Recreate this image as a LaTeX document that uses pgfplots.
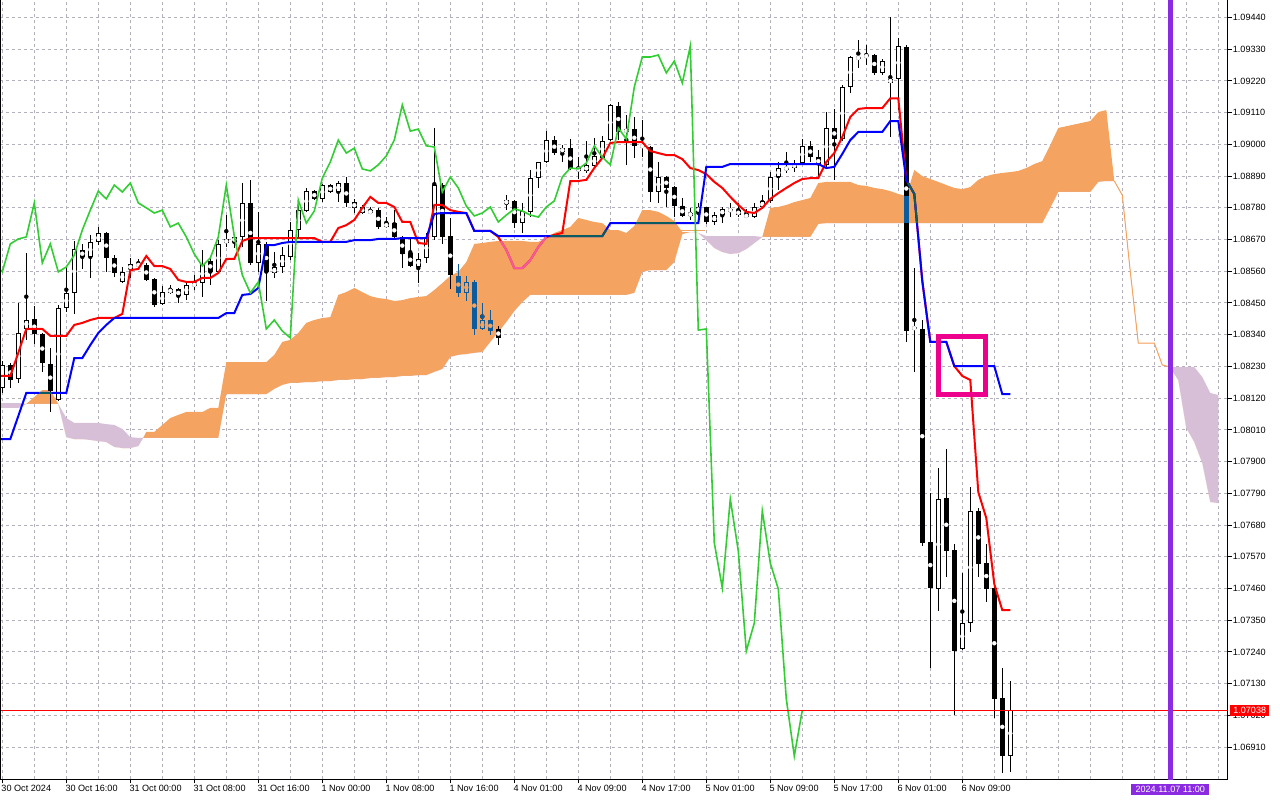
\documentclass[border=0pt]{standalone}
\usepackage{pgfplots}
\pgfplotsset{compat=1.18}
\usepackage{pgfplotstable}
\usepgfplotslibrary{fillbetween}
\usepackage{fontspec}
\setmainfont{Liberation Sans}
\definecolor{sandy}{RGB}{244,164,96}
\definecolor{thistle}{RGB}{216,191,216}
\definecolor{xblue}{RGB}{11,91,159}
\definecolor{xpink}{RGB}{244,91,159}
\definecolor{xteal}{RGB}{11,91,96}
\definecolor{lime}{RGB}{50,205,50}
\definecolor{gridc}{RGB}{180,175,188}
\definecolor{violetline}{RGB}{138,43,226}
\newcommand\lab{\fontsize{9.1bp}{10bp}\selectfont}

\pgfplotstableread{
i O H L C
0 1.08155 1.08252 1.08141 1.08235
1 1.08235 1.08242 1.08155 1.08186
2 1.08186 1.08450 1.08173 1.08346
3 1.08363 1.08623 1.08322 1.08394
4 1.08394 1.08440 1.08311 1.08342
5 1.08342 1.08346 1.08211 1.08242
6 1.08238 1.08294 1.08075 1.08145
7 1.08114 1.08443 1.08110 1.08433
8 1.08433 1.08575 1.08419 1.08485
9 1.08485 1.08668 1.08415 1.08637
10 1.08634 1.08655 1.08568 1.08610
11 1.08610 1.08686 1.08537 1.08662
12 1.08662 1.08714 1.08651 1.08693
13 1.08693 1.08696 1.08558 1.08606
14 1.08606 1.08616 1.08540 1.08554
15 1.08523 1.08575 1.08519 1.08558
16 1.08568 1.08606 1.08537 1.08585
17 1.08585 1.08603 1.08575 1.08578
18 1.08582 1.08589 1.08526 1.08530
19 1.08533 1.08537 1.08436 1.08443
20 1.08446 1.08512 1.08443 1.08488
21 1.08485 1.08512 1.08481 1.08498
22 1.08498 1.08502 1.08450 1.08474
23 1.08478 1.08523 1.08460 1.08512
24 1.08512 1.08547 1.08495 1.08516
25 1.08519 1.08634 1.08471 1.08585
26 1.08596 1.08606 1.08512 1.08558
27 1.08558 1.08668 1.08554 1.08655
28 1.08658 1.08755 1.08644 1.08672
29 1.08662 1.08686 1.08641 1.08679
30 1.08679 1.08866 1.08644 1.08797
31 1.08797 1.08877 1.08582 1.08589
32 1.08589 1.08766 1.08558 1.08655
33 1.08655 1.08662 1.08457 1.08558
34 1.08554 1.08627 1.08537 1.08575
35 1.08575 1.08644 1.08554 1.08616
36 1.08610 1.08731 1.08599 1.08703
37 1.08703 1.08807 1.08679 1.08772
38 1.08769 1.08849 1.08766 1.08838
39 1.08838 1.08842 1.08807 1.08811
40 1.08811 1.08863 1.08800 1.08859
41 1.08859 1.08863 1.08831 1.08835
42 1.08835 1.08873 1.08800 1.08866
43 1.08866 1.08887 1.08783 1.08797
44 1.08800 1.08811 1.08762 1.08780
45 1.08783 1.08790 1.08759 1.08762
46 1.08762 1.08783 1.08759 1.08772
47 1.08772 1.08780 1.08707 1.08714
48 1.08714 1.08748 1.08710 1.08727
49 1.08727 1.08772 1.08675 1.08679
50 1.08679 1.08682 1.08571 1.08620
51 1.08623 1.08679 1.08575 1.08578
52 1.08578 1.08623 1.08519 1.08606
53 1.08606 1.08693 1.08589 1.08679
54 1.08679 1.09057 1.08668 1.08859
55 1.08859 1.08866 1.08655 1.08682
56 1.08682 1.08745 1.08498 1.08547
57 1.08544 1.08585 1.08471 1.08485
58 1.08485 1.08544 1.08460 1.08523
59 1.08523 1.08530 1.08339 1.08360
60 1.08360 1.08450 1.08356 1.08391
61 1.08391 1.08426 1.08339 1.08353
62 1.08360 1.08370 1.08304 1.08329
63 1.08793 1.08824 1.08772 1.08807
64 1.08804 1.08807 1.08710 1.08727
65 1.08727 1.08797 1.08693 1.08769
66 1.08766 1.08911 1.08748 1.08883
67 1.08883 1.08942 1.08849 1.08939
68 1.08939 1.09046 1.08935 1.09015
69 1.09015 1.09029 1.08963 1.08970
70 1.08974 1.08998 1.08939 1.08987
71 1.08987 1.09019 1.08911 1.08915
72 1.08918 1.08956 1.08880 1.08908
73 1.08908 1.09015 1.08904 1.08929
74 1.08925 1.09022 1.08918 1.08960
75 1.08956 1.09029 1.08953 1.09015
76 1.09015 1.09140 1.09012 1.09137
77 1.09133 1.09147 1.09015 1.09046
78 1.09043 1.09102 1.08929 1.09053
79 1.09053 1.09095 1.08956 1.08995
80 1.08998 1.09085 1.08956 1.08991
81 1.08991 1.08995 1.08800 1.08835
82 1.08835 1.08939 1.08797 1.08887
83 1.08887 1.08890 1.08783 1.08849
84 1.08852 1.08856 1.08748 1.08786
85 1.08786 1.08814 1.08748 1.08752
86 1.08752 1.08780 1.08738 1.08762
87 1.08766 1.08797 1.08731 1.08783
88 1.08783 1.08786 1.08727 1.08731
89 1.08731 1.08766 1.08721 1.08755
90 1.08755 1.08783 1.08727 1.08776
91 1.08776 1.08797 1.08748 1.08769
92 1.08772 1.08797 1.08748 1.08755
93 1.08759 1.08776 1.08745 1.08748
94 1.08748 1.08797 1.08745 1.08783
95 1.08783 1.08824 1.08776 1.08804
96 1.08804 1.08904 1.08797 1.08887
97 1.08887 1.08939 1.08842 1.08918
98 1.08918 1.08974 1.08901 1.08915
99 1.08918 1.08946 1.08904 1.08935
100 1.08935 1.09019 1.08932 1.08995
101 1.08995 1.09012 1.08939 1.08956
102 1.08956 1.08981 1.08887 1.08929
103 1.08929 1.09112 1.08922 1.09057
104 1.09057 1.09123 1.08877 1.09019
105 1.09019 1.09206 1.09012 1.09199
106 1.09199 1.09307 1.09178 1.09303
107 1.09300 1.09365 1.09268 1.09303
108 1.09303 1.09345 1.09275 1.09310
109 1.09310 1.09314 1.09241 1.09248
110 1.09248 1.09296 1.09241 1.09289
111 1.09227 1.09442 1.09026 1.09213
112 1.09227 1.09369 1.09119 1.09341
113 1.09341 1.09345 1.08315 1.08356
114 1.08367 1.08571 1.08211 1.08360
115 1.08360 1.08391 1.07607 1.07618
116 1.07621 1.07791 1.07184 1.07462
117 1.07458 1.07878 1.07382 1.07770
118 1.07774 1.07944 1.07500 1.07590
119 1.07593 1.07614 1.07021 1.07243
120 1.07250 1.07517 1.07247 1.07340
121 1.07340 1.07812 1.07309 1.07729
122 1.07729 1.07739 1.07500 1.07548
123 1.07548 1.07614 1.07413 1.07458
124 1.07462 1.07465 1.07011 1.07077
125 1.07080 1.07184 1.06823 1.06879
126 1.06879 1.07139 1.06823 1.07038
}\candles

\pgfplotstableread{
i T
-1 1.08197
0 1.08197
1 1.08197
2 1.08277
3 1.08360
4 1.08360
5 1.08360
6 1.08336
7 1.08336
8 1.08336
9 1.08374
10 1.08381
11 1.08391
12 1.08398
13 1.08398
14 1.08398
15 1.08412
16 1.08564
17 1.08568
18 1.08613
19 1.08578
20 1.08578
21 1.08568
22 1.08530
23 1.08523
24 1.08523
25 1.08537
26 1.08537
27 1.08554
28 1.08603
29 1.08603
30 1.08665
31 1.08675
39 1.08675
40 1.08662
41 1.08662
42 1.08710
43 1.08720
44 1.08738
45 1.08780
46 1.08818
47 1.08797
48 1.08797
49 1.08783
50 1.08731
51 1.08731
52 1.08658
53 1.08655
54 1.08790
55 1.08790
56 1.08772
57 1.08766
58 1.08762
59 1.08700
60 1.08700
61 1.08700
62 1.08679
63 1.08634
64 1.08571
65 1.08571
66 1.08599
67 1.08644
68 1.08679
69 1.08686
70 1.08693
71 1.08873
72 1.08873
73 1.08877
74 1.08918
75 1.08953
76 1.09005
77 1.09008
80 1.09008
81 1.08977
82 1.08970
83 1.08963
84 1.08963
85 1.08949
86 1.08918
87 1.08911
88 1.08897
89 1.08870
90 1.08849
91 1.08818
92 1.08790
93 1.08766
94 1.08762
95 1.08780
96 1.08811
97 1.08831
98 1.08849
99 1.08866
100 1.08880
101 1.08883
102 1.08883
103 1.08939
104 1.08970
105 1.09026
106 1.09095
107 1.09123
108 1.09126
110 1.09126
111 1.09160
112 1.09160
113 1.08877
114 1.08828
115 1.08526
116 1.08315
118 1.08315
119 1.08231
120 1.08197
121 1.08183
122 1.07794
123 1.07704
124 1.07475
125 1.07385
126 1.07385
}\tenkan

\pgfplotstableread{
i K
-1 1.07978
1 1.07978
2 1.08058
3 1.08138
8 1.08138
9 1.08259
10 1.08259
11 1.08304
12 1.08346
13 1.08374
14 1.08398
27 1.08398
28 1.08415
29 1.08415
30 1.08478
31 1.08481
32 1.08502
33 1.08651
34 1.08651
35 1.08658
36 1.08662
43 1.08662
44 1.08668
46 1.08668
47 1.08672
49 1.08672
50 1.08675
53 1.08675
54 1.08759
55 1.08762
58 1.08762
59 1.08700
61 1.08700
62 1.08682
75 1.08682
76 1.08727
87 1.08727
88 1.08922
90 1.08922
91 1.08932
102 1.08932
103 1.08918
104 1.08922
105 1.08967
106 1.09015
107 1.09043
110 1.09043
111 1.09081
112 1.09081
113 1.08877
114 1.08828
115 1.08526
116 1.08315
118 1.08315
119 1.08231
124 1.08231
125 1.08134
126 1.08134
}\kijun

\pgfplotstableread{
i A B
-1 1.08086 1.08103
0 1.08086 1.08103
1 1.08086 1.08103
2 1.08086 1.08103
3 1.08100 1.08100
4 1.08124 1.08100
5 1.08148 1.08100
6 1.08148 1.08100
7 1.08100 1.08100
8 1.07985 1.08051
9 1.07978 1.08034
10 1.07978 1.08034
11 1.07975 1.08034
12 1.07971 1.08034
13 1.07968 1.08030
14 1.07951 1.08027
15 1.07947 1.08013
16 1.07947 1.07985
17 1.07954 1.07982
17.6 1.07982 1.07982
18 1.08003 1.07982
19 1.08003 1.07982
20 1.08027 1.07982
21 1.08051 1.07982
22 1.08062 1.07982
23 1.08072 1.07982
24 1.08072 1.07982
25 1.08072 1.07982
26 1.08086 1.07982
27 1.08086 1.07982
28 1.08245 1.08134
33 1.08245 1.08134
34 1.08270 1.08152
35 1.08315 1.08166
36 1.08322 1.08173
37 1.08346 1.08173
38 1.08381 1.08176
39 1.08391 1.08176
40 1.08398 1.08179
41 1.08401 1.08179
42 1.08478 1.08183
43 1.08488 1.08183
44 1.08502 1.08186
45 1.08488 1.08186
46 1.08474 1.08190
47 1.08467 1.08190
48 1.08464 1.08193
49 1.08457 1.08193
50 1.08460 1.08197
51 1.08467 1.08197
52 1.08471 1.08200
53 1.08474 1.08200
54 1.08495 1.08211
55 1.08519 1.08221
56 1.08544 1.08263
57 1.08558 1.08270
58 1.08592 1.08273
59 1.08655 1.08277
60 1.08658 1.08280
61 1.08662 1.08315
62 1.08665 1.08349
63 1.08665 1.08384
64 1.08665 1.08422
65 1.08665 1.08453
66 1.08662 1.08478
67 1.08662 1.08478
68 1.08675 1.08478
69 1.08693 1.08478
70 1.08703 1.08478
71 1.08714 1.08478
72 1.08745 1.08478
73 1.08738 1.08478
74 1.08731 1.08478
75 1.08727 1.08478
76 1.08703 1.08478
77 1.08703 1.08478
78 1.08693 1.08478
79 1.08717 1.08485
80 1.08772 1.08558
81 1.08772 1.08564
82 1.08766 1.08564
83 1.08752 1.08564
84 1.08734 1.08592
85 1.08696 1.08689
86 1.08696 1.08696
87 1.08693 1.08693
88 1.08668 1.08682
89 1.08641 1.08682
90 1.08627 1.08682
91 1.08620 1.08682
92 1.08623 1.08682
93 1.08637 1.08682
94 1.08658 1.08682
95 1.08679 1.08679
96 1.08780 1.08679
97 1.08783 1.08679
98 1.08790 1.08679
99 1.08800 1.08679
100 1.08807 1.08679
101 1.08814 1.08679
102 1.08866 1.08724
103 1.08870 1.08727
106 1.08870 1.08727
107 1.08859 1.08727
108 1.08856 1.08727
109 1.08849 1.08727
110 1.08845 1.08727
111 1.08838 1.08727
112 1.08828 1.08727
113 1.08821 1.08727
114 1.08911 1.08727
115 1.08890 1.08727
116 1.08880 1.08727
117 1.08870 1.08727
118 1.08859 1.08727
119 1.08849 1.08727
120 1.08845 1.08727
121 1.08852 1.08727
122 1.08877 1.08727
123 1.08890 1.08727
124 1.08897 1.08727
125 1.08901 1.08727
126 1.08904 1.08727
127 1.08908 1.08727
128 1.08918 1.08727
129 1.08932 1.08727
130 1.08942 1.08727
131 1.08998 1.08780
132 1.09057 1.08835
136 1.09081 1.08835
137 1.09112 1.08870
138 1.09119 1.08873
139 1.08873 1.08873
140 1.08824 1.08824
141 1.08558 1.08558
142 1.08311 1.08311
144 1.08311 1.08311
145 1.08235 1.08235
146 1.08225 1.08228
147 1.08183 1.08228
148 1.08017 1.08228
149 1.07968 1.08228
150 1.07895 1.08193
151 1.07760 1.08138
152 1.07756 1.08131
}\cloud

\begin{document}
\begin{tikzpicture}
\begin{axis}[at={(0bp,800bp)}, anchor=north west,
  width=1227.7bp, height=779.3bp, scale only axis,
  xmin=-0.2875, xmax=153.175, ymin=1.067982, ymax=1.095008, clip mode=individual,
  axis x line*=bottom, axis y line*=right,
  axis line style={black, line width=1bp},
  xmajorgrids, xminorgrids, ymajorgrids,
  grid style={gridc, dash pattern=on 3bp off 3bp, line width=1bp},
  minor grid style={gridc, dash pattern=on 3bp off 3bp, line width=1bp},
  xtick={0,8,...,120},
  minor xtick={4,12,...,148,128,136,144,152},
  xticklabels={30 Oct 2024,30 Oct 16:00,31 Oct 00:00,31 Oct 08:00,31 Oct 16:00,1 Nov 00:00,1 Nov 08:00,1 Nov 16:00,4 Nov 01:00,4 Nov 09:00,4 Nov 17:00,5 Nov 01:00,5 Nov 09:00,5 Nov 17:00,6 Nov 01:00,6 Nov 09:00},
  ytick={1.0691,1.0702,1.0713,1.0724,1.0735,1.0746,1.0757,1.0768,1.0779,1.0790,1.0801,1.0812,1.0823,1.0834,1.0845,1.0856,1.0867,1.0878,1.0889,1.0900,1.0911,1.0922,1.0933,1.0944},
  yticklabels={1.06910,1.07020,1.07130,1.07240,1.07350,1.07460,1.07570,1.07680,1.07790,1.07900,1.08010,1.08120,1.08230,1.08340,1.08450,1.08560,1.08670,1.08780,1.08890,1.09000,1.09110,1.09220,1.09330,1.09440},
  major tick length=4bp, minor tick length=0bp,
  tick align=outside,
  tick style={black, line width=1bp},
  tick label style={font=\lab, text=black},
  x tick label style={anchor=north west, inner sep=0pt, xshift=-1bp, yshift=-2bp},
  y tick label style={anchor=west, inner sep=0pt, xshift=1bp},
]
% Ichimoku cloud (Senkou span A / B)
\addplot[name path=cA, draw=none, forget plot] table[x=i, y=A] {\cloud};
\addplot[name path=cB, draw=none, forget plot] table[x=i, y=B] {\cloud};
\addplot[name path=cM, draw=none, forget plot] table[x=i, y expr={min(\thisrow{A},\thisrow{B})}] {\cloud};
\addplot[fill=sandy, draw=none, forget plot] fill between[of=cA and cM];
\addplot[fill=thistle, draw=none, forget plot] fill between[of=cB and cM];
\addplot[sandy, line width=1bp, forget plot] coordinates {(84.7,1.08700) (86,1.08700) (87.8,1.08700)};
\addplot[sandy, line width=1bp, forget plot] coordinates {(139,1.08873) (140,1.08824) (141,1.08558) (142,1.08311) (144,1.08311) (145,1.08235) (146,1.08228)};
% candles
\addplot[only marks, mark=none, black, forget plot,
  error bars/.cd, y dir=both, y explicit, error mark=none,
  error bar style={line width=1bp, black}]
  table[x=i, y expr={(\thisrow{H}+\thisrow{L})/2}, y error expr={(\thisrow{H}-\thisrow{L})/2}] {\candles};
\addplot[only marks, mark=none, black, forget plot,
  error bars/.cd, y dir=both, y explicit, error mark=none,
  error bar style={line width=5bp, black}]
  table[x=i, y expr={(\thisrow{O}+\thisrow{C})/2}, y error expr={abs(\thisrow{O}-\thisrow{C})/2}] {\candles};
\addplot[only marks, mark=none, white, forget plot,
  error bars/.cd, y dir=both, y explicit, error mark=none,
  error bar style={line width=3bp, white}]
  table[x=i, y expr={(\thisrow{O}+\thisrow{C})/2}, y error expr={max((\thisrow{C}-\thisrow{O})/2-0.0000347,0)}] {\candles};
% candles that lie inside the cloud, drawn in the chart's blended colours
\addplot[only marks, mark=none, xblue, forget plot, restrict x to domain=56.5:61.5,
  error bars/.cd, y dir=both, y explicit, error mark=none,
  error bar style={line width=1bp, xblue}]
  table[x=i, y expr={(\thisrow{H}+\thisrow{L})/2}, y error expr={(\thisrow{H}-\thisrow{L})/2}] {\candles};
\addplot[only marks, mark=none, xblue, forget plot, restrict x to domain=56.5:61.5,
  error bars/.cd, y dir=both, y explicit, error mark=none,
  error bar style={line width=5bp, xblue}]
  table[x=i, y expr={(\thisrow{O}+\thisrow{C})/2}, y error expr={abs(\thisrow{O}-\thisrow{C})/2}] {\candles};
\addplot[only marks, mark=none, sandy, forget plot, restrict x to domain=56.5:61.5,
  error bars/.cd, y dir=both, y explicit, error mark=none,
  error bar style={line width=3bp, sandy}]
  table[x=i, y expr={(\thisrow{O}+\thisrow{C})/2}, y error expr={max((\thisrow{C}-\thisrow{O})/2-0.0000347,0)}] {\candles};
\addplot[only marks, mark=none, xblue, forget plot,
  error bars/.cd, y dir=both, y explicit, error mark=none,
  error bar style={line width=5bp, xblue}]
  coordinates {(113,1.08774) +- (0,0.00047)};
% tenkan-sen and kijun-sen
\addplot[red, line width=2bp, forget plot] table[x=i, y=T] {\tenkan};
\addplot[blue, line width=2bp, forget plot] table[x=i, y=K] {\kijun};
\addplot[xpink, line width=2bp, forget plot] coordinates {(62.3,1.08665) (63,1.08634) (64,1.08571) (65,1.08571) (66,1.08599) (67,1.08644) (68,1.08679)};
\addplot[xteal, line width=2bp, forget plot] coordinates {(68.5,1.08682) (75,1.08682) (75.5,1.08704)};
\addplot[xteal, line width=2bp, forget plot] coordinates {(79.2,1.08727) (84.2,1.08727)};
\addplot[xteal, line width=2bp, forget plot] coordinates {(4.6,1.08138) (6.2,1.08138)};
\addplot[xteal, line width=2bp, forget plot] coordinates {(113.2,1.08867) (114,1.08828) (114.33,1.08727)};
% chikou span (close shifted 26 bars back)
\addplot[lime, line width=1.6bp, forget plot] table[x expr={\thisrow{i}-26}, y=C] {\candles};
% current price, time line, rectangle
\addplot[red, line width=1bp, forget plot] coordinates {(-1,1.07038) (154,1.07038)};
\addplot[violetline, line width=4.5bp, forget plot] coordinates {(146,1.0679) (146,1.0951)};
\addplot[magenta, line width=5bp, line join=miter, forget plot] coordinates {(117.03,1.08334) (122.94,1.08334) (122.94,1.08134) (117.03,1.08134) (117.03,1.08334) (122.94,1.08334)};
\coordinate (cp) at (axis cs:153.175,1.07038);
\coordinate (dp) at (axis cs:146,1.067982);
\end{axis}
\draw[black, line width=1bp] (0.5bp,20.7bp) -- (0.5bp,800bp);
\node[fill=red, text=white, inner sep=0pt, minimum width=39bp, minimum height=11bp, anchor=west, font=\lab] at ([xshift=2.3bp]cp) {1.07038};
\node[fill=violetline, text=white, inner sep=0pt, minimum width=78bp, minimum height=10.5bp, anchor=north, font=\lab] at ([yshift=-5bp]dp) {2024.11.07 11:00};
\pgfresetboundingbox
\useasboundingbox (0,0) rectangle (1280bp,800bp);
\end{tikzpicture}
\end{document}
